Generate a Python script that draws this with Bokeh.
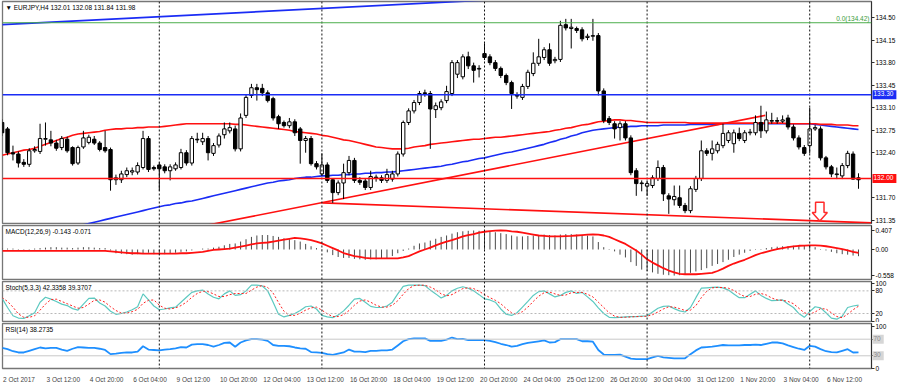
import numpy as np
from bokeh.plotting import figure
from bokeh.layouts import column, row
from bokeh.models import Span, Label, FixedTicker, Range1d, CustomJSTickFormatter, PrintfTickFormatter
from bokeh.embed import file_html
from bokeh.resources import INLINE

# ---------------- data ----------------
BAR = list(range(1, 160))  # H4 bar index, 0 = 2 Oct 2017 00:00

OPEN = [132.87,132.77,132.40,132.38,132.25,132.22,132.43,132.42,132.61,132.60,
        132.55,132.48,132.61,132.48,132.24,132.49,132.56,132.61,132.55,132.48,
        132.45,131.98,131.98,132.06,132.10,132.10,132.17,132.62,132.17,132.21,
        132.18,132.12,132.15,132.17,132.40,132.24,132.61,132.57,132.62,132.39,
        132.52,132.68,132.74,132.77,132.46,132.98,133.29,133.41,133.40,133.33,
        133.24,132.96,132.87,132.82,132.88,132.77,132.59,132.62,132.23,132.07,
        132.21,131.98,131.78,131.93,132.09,132.28,131.97,131.96,131.86,132.02,
        132.01,131.97,131.99,132.07,132.38,132.87,133.05,133.18,133.33,133.32,
        133.07,133.10,133.21,133.32,133.62,133.58,133.89,133.75,133.70,133.94,
        133.89,133.80,133.71,133.60,133.49,133.30,133.26,133.43,133.63,133.79,
        133.88,134.00,133.83,133.85,134.39,134.33,134.33,134.31,134.19,134.21,
        134.22,133.36,132.93,132.85,132.79,132.85,132.63,132.12,131.93,131.88,
        131.89,132.00,132.17,131.73,131.67,131.70,131.58,131.50,131.83,132.00,
        132.43,132.39,132.43,132.51,132.59,132.54,132.70,132.59,132.71,132.71,
        132.87,132.74,132.89,132.90,132.89,132.94,132.80,132.63,132.48,132.51,
        132.77,132.77,132.32,132.18,132.06,132.04,132.20,132.38,132.01]
HIGH = [132.92,132.80,132.51,132.42,132.30,132.47,132.50,132.85,132.87,132.74,
        132.60,132.66,132.65,132.50,132.51,132.74,132.68,132.66,132.58,132.74,
        132.48,132.06,132.12,132.17,132.17,132.25,132.74,132.66,132.20,132.25,
        132.22,132.22,132.25,132.46,132.44,132.66,132.71,132.71,132.66,132.55,
        132.70,132.87,132.87,132.82,133.01,133.30,133.47,133.47,133.47,133.37,
        133.27,132.99,132.90,132.94,132.92,132.80,132.66,132.66,132.27,132.39,
        132.25,132.00,131.97,132.23,132.35,132.32,132.02,132.00,132.12,132.06,
        132.05,132.15,132.12,132.42,132.90,133.09,133.22,133.36,133.38,133.36,
        133.18,133.23,133.44,133.84,133.84,133.93,133.97,133.80,133.76,134.10,
        133.93,133.84,133.74,133.63,133.52,133.34,133.47,133.69,133.96,134.17,
        134.04,134.10,133.89,134.45,134.48,134.48,134.36,134.35,134.25,134.48,
        134.26,133.40,132.97,132.89,132.89,132.89,132.67,132.16,131.97,131.97,
        132.05,132.28,132.21,131.77,131.89,131.89,131.62,131.88,132.04,132.59,
        132.47,132.59,132.57,132.85,132.75,132.76,132.79,132.75,132.77,132.98,
        133.13,133.04,133.02,132.95,132.98,132.99,132.84,132.67,132.52,133.10,
        132.83,132.81,132.35,132.21,132.17,132.24,132.43,132.42,132.08]
LOW = [132.66,132.36,132.28,132.17,132.18,132.18,132.40,132.38,132.51,132.50,
       132.43,132.44,132.40,132.20,132.21,132.46,132.53,132.52,132.42,132.40,
       131.81,131.90,131.93,132.02,132.05,132.06,132.14,132.10,132.12,131.81,
       132.08,131.97,132.12,132.14,132.20,132.20,132.55,132.52,132.28,132.35,
       132.48,132.62,132.70,132.42,132.42,132.94,133.25,133.21,133.28,133.18,
       132.90,132.77,132.79,132.78,132.66,132.23,132.40,132.20,132.14,132.04,
       131.93,131.62,131.74,131.68,132.05,131.93,131.90,131.82,131.82,131.95,
       131.93,131.93,131.95,132.03,132.34,132.83,133.01,133.14,133.27,132.46,
       132.94,133.06,133.17,133.28,133.56,133.54,133.70,133.49,133.57,133.84,
       133.76,133.67,133.56,133.45,133.08,133.24,133.22,133.39,133.59,133.75,
       133.84,133.75,133.79,133.81,134.30,134.02,134.26,134.13,134.15,134.14,
       133.29,132.86,132.83,132.62,132.59,132.59,132.05,131.73,131.80,131.73,
       131.85,131.96,131.65,131.45,131.58,131.54,131.46,131.46,131.79,131.96,
       132.35,132.28,132.39,132.47,132.55,132.40,132.58,132.55,132.67,132.67,
       132.63,132.70,132.85,132.85,132.86,132.76,132.59,132.45,132.35,132.39,
       132.74,132.28,132.14,132.02,131.99,131.99,132.16,131.98,131.84]
CLOSE = [132.71,132.40,132.38,132.24,132.22,132.43,132.45,132.62,132.62,132.55,
         132.47,132.62,132.43,132.23,132.48,132.63,132.64,132.55,132.45,132.43,
         131.98,132.01,132.07,132.12,132.12,132.20,132.62,132.14,132.15,132.15,
         132.12,132.18,132.21,132.40,132.24,132.62,132.60,132.62,132.40,132.51,
         132.66,132.77,132.79,132.46,132.94,133.26,133.41,133.38,133.33,133.21,
         132.94,132.85,132.82,132.88,132.71,132.59,132.62,132.23,132.18,132.21,
         131.97,131.78,131.93,132.09,132.28,131.97,131.94,131.86,132.03,132.00,
         131.97,132.06,132.07,132.38,132.87,133.05,133.18,133.32,133.32,133.08,
         133.13,133.19,133.35,133.80,133.80,133.89,133.75,133.68,133.71,133.88,
         133.80,133.71,133.60,133.49,133.32,133.28,133.43,133.65,133.79,133.89,
         134.00,133.79,133.85,134.38,134.34,134.35,134.30,134.17,134.21,134.22,
         133.36,132.90,132.87,132.77,132.85,132.63,132.09,131.92,131.92,131.92,
         132.01,132.17,131.76,131.68,131.72,131.58,131.50,131.84,132.00,132.43,
         132.39,132.46,132.53,132.70,132.71,132.71,132.62,132.71,132.72,132.87,
         132.74,132.91,132.90,132.89,132.91,132.80,132.63,132.49,132.39,132.77,
         132.79,132.32,132.18,132.07,132.07,132.20,132.39,131.99,131.98]

MA_RED = [132.36,132.38,132.40,132.42,132.44,132.45,132.47,132.50,132.53,132.56,
          132.59,132.62,132.64,132.67,132.69,132.70,132.71,132.72,132.73,132.75,
          132.76,132.77,132.77,132.78,132.78,132.79,132.79,132.80,132.80,132.80,
          132.81,132.82,132.83,132.84,132.85,132.85,132.85,132.85,132.85,132.85,
          132.85,132.85,132.85,132.84,132.84,132.83,132.82,132.81,132.80,132.79,
          132.78,132.77,132.76,132.75,132.73,132.72,132.71,132.70,132.69,132.67,
          132.66,132.64,132.62,132.60,132.59,132.57,132.55,132.53,132.51,132.49,
          132.48,132.47,132.46,132.46,132.46,132.47,132.49,132.50,132.51,132.53,
          132.54,132.55,132.56,132.57,132.58,132.59,132.60,132.61,132.61,132.62,
          132.63,132.64,132.64,132.65,132.66,132.67,132.68,132.69,132.70,132.71,
          132.72,132.73,132.75,132.76,132.78,132.79,132.81,132.83,132.84,132.86,
          132.88,132.89,132.90,132.91,132.91,132.90,132.90,132.89,132.88,132.87,
          132.87,132.87,132.87,132.87,132.87,132.87,132.87,132.86,132.86,132.86,
          132.86,132.86,132.86,132.86,132.86,132.86,132.86,132.86,132.86,132.86,
          132.86,132.86,132.86,132.86,132.86,132.85,132.85,132.85,132.85,132.85,
          132.85,132.84,132.84,132.84,132.83,132.83,132.83,132.82,132.82]
MA_BLUE_BAR = list(range(13, 160))
MA_BLUE = [131.20,131.23,131.26,131.28,131.30,131.32,131.34,131.36,131.38,131.40,
           131.42,131.44,131.46,131.48,131.50,131.52,131.54,131.56,131.58,131.59,
           131.61,131.62,131.64,131.65,131.67,131.69,131.71,131.73,131.75,131.77,
           131.79,131.81,131.83,131.85,131.87,131.89,131.91,131.93,131.94,131.96,
           131.97,131.98,132.00,132.01,132.02,132.02,132.03,132.04,132.04,132.05,
           132.05,132.06,132.06,132.07,132.07,132.08,132.08,132.09,132.09,132.10,
           132.10,132.11,132.12,132.13,132.14,132.15,132.16,132.17,132.18,132.19,
           132.21,132.22,132.24,132.26,132.27,132.29,132.31,132.32,132.34,132.36,
           132.38,132.40,132.41,132.43,132.45,132.47,132.49,132.51,132.53,132.56,
           132.58,132.61,132.63,132.66,132.68,132.71,132.73,132.75,132.76,132.77,
           132.78,132.79,132.80,132.80,132.81,132.81,132.82,132.82,132.82,132.82,
           132.83,132.83,132.83,132.83,132.83,132.84,132.84,132.84,132.84,132.84,
           132.84,132.85,132.85,132.85,132.85,132.85,132.85,132.85,132.85,132.85,
           132.85,132.85,132.85,132.85,132.85,132.85,132.85,132.85,132.84,132.83,
           132.82,132.81,132.80,132.79,132.78,132.77,132.76]

MACD_MAIN = [0.03,0.02,0.02,0.01,-0.01,0.01,0.02,0.03,0.04,0.05,
             0.05,0.04,0.04,0.03,0.04,0.05,0.05,0.04,0.03,0.03,
             -0.02,-0.08,-0.09,-0.10,-0.11,-0.10,-0.08,-0.07,-0.10,-0.11,
             -0.10,-0.08,-0.07,-0.05,-0.04,-0.02,0.00,0.02,0.02,0.04,
             0.06,0.09,0.12,0.13,0.17,0.22,0.27,0.30,0.31,0.31,
             0.29,0.27,0.24,0.22,0.20,0.17,0.12,0.07,0.03,-0.01,
             -0.06,-0.12,-0.16,-0.18,-0.18,-0.20,-0.21,-0.22,-0.21,-0.21,
             -0.20,-0.19,-0.14,-0.08,-0.03,0.02,0.08,0.13,0.15,0.19,
             0.23,0.27,0.30,0.34,0.37,0.39,0.40,0.407,0.40,0.39,
             0.38,0.37,0.35,0.33,0.30,0.28,0.28,0.29,0.30,0.31,
             0.32,0.31,0.30,0.32,0.33,0.33,0.32,0.31,0.30,0.28,
             0.16,0.05,-0.01,-0.04,-0.11,-0.17,-0.27,-0.35,-0.43,-0.46,
             -0.49,-0.52,-0.54,-0.55,-0.558,-0.55,-0.53,-0.50,-0.47,-0.44,
             -0.40,-0.35,-0.31,-0.27,-0.22,-0.16,-0.11,-0.07,-0.03,-0.01,
             0.01,0.03,0.05,0.06,0.07,0.07,0.08,0.09,0.09,0.08,
             0.05,0.01,-0.02,-0.05,-0.08,-0.10,-0.11,-0.13,-0.143]
MACD_SIGNAL = [-0.03,-0.03,-0.03,-0.03,-0.03,-0.03,-0.03,-0.03,-0.03,-0.03,
               -0.03,-0.03,-0.03,-0.03,-0.03,-0.03,-0.03,-0.03,-0.03,-0.03,
               -0.04,-0.05,-0.06,-0.07,-0.08,-0.08,-0.09,-0.09,-0.09,-0.09,
               -0.09,-0.09,-0.09,-0.08,-0.08,-0.07,-0.06,-0.05,-0.03,-0.01,
               0.00,0.01,0.02,0.04,0.06,0.085,0.11,0.13,0.14,0.15,
               0.17,0.19,0.21,0.23,0.25,0.24,0.22,0.20,0.17,0.13,
               0.08,0.03,-0.02,-0.075,-0.11,-0.14,-0.16,-0.18,-0.19,-0.19,
               -0.19,-0.19,-0.19,-0.19,-0.17,-0.14,-0.09,-0.04,0.00,0.04,
               0.09,0.13,0.17,0.20,0.24,0.28,0.31,0.33,0.36,0.38,
               0.395,0.405,0.407,0.405,0.39,0.38,0.36,0.34,0.32,0.30,
               0.29,0.28,0.28,0.28,0.285,0.29,0.30,0.31,0.32,0.325,
               0.32,0.30,0.27,0.22,0.17,0.12,0.05,-0.02,-0.11,-0.21,
               -0.28,-0.34,-0.40,-0.45,-0.49,-0.52,-0.53,-0.53,-0.53,-0.52,
               -0.51,-0.50,-0.46,-0.41,-0.35,-0.30,-0.26,-0.22,-0.17,-0.12,
               -0.08,-0.05,-0.02,0.01,0.03,0.05,0.065,0.08,0.085,0.09,
               0.09,0.085,0.07,0.05,0.03,0.01,-0.02,-0.05,-0.071]

STOCH_K = [60,36,14,8,7,14,22,50,63,58,52,45,41,33,29,45,60,61,48,40,
           26,18,20,24,30,38,72,56,40,30,32,35,37,50,63,76,80,82,72,63,
           59,72,80,68,70,80,95,95,93,80,50,18,11,15,20,28,38,40,32,15,
           11,9,16,27,42,58,60,50,39,36,36,40,50,72,92,95,95,95,94,82,
           72,61,68,80,87,91,87,80,70,59,56,50,32,18,15,22,37,52,68,78,
           80,72,64,68,76,80,73,76,64,52,35,20,10,9,10,11,12,12,13,14,
           24,34,39,40,33,27,24,36,62,87,88,89,90,88,82,72,62,62,71,80,
           68,60,54,55,56,45,36,20,10,25,38,35,22,8,5,13,36,40,42.34]
STOCH_D = [62,52,37,19,10,10,14,29,45,57,58,52,46,40,34,36,45,55,56,50,
           38,28,21,21,25,31,47,55,56,42,34,32,35,41,50,63,73,79,78,72,
           65,65,70,73,73,73,82,90,94,89,74,49,26,15,15,21,29,35,37,29,
           19,12,12,17,28,42,53,56,50,42,37,37,42,54,71,86,94,95,95,90,
           83,72,67,70,78,86,88,86,79,70,62,55,46,33,22,18,25,37,52,66,
           75,77,72,68,69,75,76,76,71,64,50,36,22,13,10,10,11,12,12,13,
           17,24,32,38,37,33,28,29,41,62,79,88,89,89,87,81,72,65,65,71,
           73,69,61,56,55,52,46,34,22,18,24,33,32,22,12,9,18,30,39.37]
RSI = [49,46,41,38,38,42,46,50,48,49,49,45,42,47,51,50,49,49,47,44,
       34,35,37,38,38,40,53,45,44,43,45,46,48,51,50,57,58,58,56,52,
       56,61,62,52,62,67,70,70,69,66,56,54,54,53,50,48,47,39,38,37,
       34,32,35,38,45,40,40,39,42,42,43,43,45,55,65,70,72,72,72,66,
       66,66,69,74,70,71,68,68,68,68,66,63,59,56,52,54,58,61,63,65,
       67,62,63,70,70,70,70,65,65,64,44,33,32,32,33,28,23,22,22,22,
       26,30,26,25,24,24,24,34,43,50,51,52,54,56,55,55,55,56,56,57,
       56,59,62,62,60,55,51,47,44,54,52,46,41,39,38,42,46,38,38.27]

# horizontal levels / objects on the price panel
FIBO_LEVEL = 134.42
LEVEL_BLUE = 133.30
LEVEL_RED = 132.00
TREND_BLUE_X, TREND_BLUE_Y = [1.0, 90.0], [134.39, 134.77]
TREND_UP_X, TREND_UP_Y = [38.0, 141.8], [131.26, 132.98]
TREND_DN_X, TREND_DN_Y = [60.1, 161.4], [131.62, 131.31]
ARROW_BAR, ARROW_PRICE = 151.86, 131.63
WEEK_SEPARATORS = [30, 60, 90, 120, 150]

PRICE_TICKS = [134.50, 134.15, 133.80, 133.45, 133.10, 132.75, 132.40, 131.70, 131.35]
MACD_TICKS = [0.407, 0.0, -0.558]
STOCH_TICKS = [0, 20, 80, 100]
RSI_TICKS = [0, 30, 70, 100]
RSI_LEVELS = [30, 70]
TIME_TICKS = [1, 9, 17, 25, 33, 41, 49, 57, 65, 73, 81, 89, 97, 105, 113, 121, 129, 137, 145, 153]
TIME_LABELS = ["2 Oct 2017", "3 Oct 12:00", "4 Oct 20:00", "6 Oct 04:00", "9 Oct 12:00",
               "10 Oct 20:00", "12 Oct 04:00", "13 Oct 12:00", "16 Oct 20:00", "18 Oct 04:00",
               "19 Oct 12:00", "20 Oct 20:00", "24 Oct 04:00", "25 Oct 12:00", "26 Oct 20:00",
               "30 Oct 04:00", "31 Oct 12:00", "1 Nov 20:00", "3 Nov 04:00", "6 Nov 12:00"]

# ---------------- styling ----------------
FONT = "Liberation Sans"
FS_PX = 6.5
FS = "%.1fpx" % FS_PX
X0, X1 = 1.07, 161.4
FRAME_W = 869
AXIS_W = 29
PX_PER_BAR = FRAME_W / (X1 - X0)
xr = Range1d(X0, X1)

# approximate Arial/Liberation advance widths (em) to left-align time labels at their bar
_W = {c: 0.556 for c in "0123456789"}
_W.update({" ": 0.278, ":": 0.278, "O": 0.778, "N": 0.722, "c": 0.5, "t": 0.278,
           "o": 0.556, "v": 0.5})


def text_w(s):
    return sum(_W.get(ch, 0.55) for ch in s) * FS_PX


def make_fig(fh, yr, bottom_axis=False):
    p = figure(x_range=xr, y_range=yr, frame_width=FRAME_W, frame_height=fh,
               output_backend="svg", toolbar_location=None,
               x_axis_location="below" if bottom_axis else None,
               y_axis_location="right", min_border_left=2, min_border_right=AXIS_W,
               min_border_top=1, min_border_bottom=16 if bottom_axis else 1)
    p.grid.visible = False
    p.outline_line_color = "#767676"
    p.outline_line_width = 1.3
    p.background_fill_color = "white"
    p.border_fill_color = "white"
    ax = p.yaxis[0]
    ax.axis_line_color = "#303030"
    ax.major_tick_line_color = "#303030"
    ax.major_tick_out = 3
    ax.major_tick_in = 0
    ax.minor_tick_line_color = None
    ax.major_label_text_font = FONT
    ax.major_label_text_font_size = FS
    ax.major_label_text_color = "black"
    ax.major_label_standoff = 1
    for loc in WEEK_SEPARATORS:
        p.add_layout(Span(location=loc, dimension="height", line_color="#111111",
                          line_dash="2 2", line_width=1))
    return p


def box_fig(fh, yr):
    """transparent strip laid over the price-axis area, for the coloured level boxes"""
    b = figure(x_range=Range1d(0, 1), y_range=yr, frame_width=AXIS_W, frame_height=fh,
               output_backend="svg", toolbar_location=None, x_axis_location=None,
               y_axis_location=None, min_border_left=0, min_border_right=0,
               min_border_top=1, min_border_bottom=1, margin=(0, 0, 0, -AXIS_W))
    b.grid.visible = False
    b.outline_line_color = None
    b.background_fill_alpha = 0
    b.border_fill_alpha = 0
    return b


def title_label(p, text, y):
    p.add_layout(Label(x=X0, y=y, x_offset=3, y_offset=-2, text=text, text_baseline="top",
                       text_font=FONT, text_font_size=FS, text_color="black"))


def axis_box(b, y, text, bg, fg):
    b.add_layout(Label(x=0, y=y, x_offset=1, text=text, text_baseline="middle",
                       text_font=FONT, text_font_size=FS, text_color=fg,
                       background_fill_color=bg, padding=(1, 3, 1, 3)))


# ---------------- price panel ----------------
PRICE_RANGE = Range1d(131.30, 134.75)
pm = make_fig(222, PRICE_RANGE)
pm.yaxis[0].ticker = FixedTicker(ticks=PRICE_TICKS)
pm.yaxis[0].formatter = PrintfTickFormatter(format="%.2f")

pm.add_layout(Span(location=FIBO_LEVEL, dimension="width", line_color="#4cae4c", line_width=1))
pm.add_layout(Span(location=LEVEL_BLUE, dimension="width", line_color="#1a2cf5", line_width=1.6))
pm.add_layout(Span(location=LEVEL_RED, dimension="width", line_color="#ff1010", line_width=1.6))

pm.line(TREND_BLUE_X, TREND_BLUE_Y, line_color="#1a2cf5", line_width=1.8)
pm.line(MA_BLUE_BAR, MA_BLUE, line_color="#1a2cf5", line_width=1.6)
pm.line(BAR, MA_RED, line_color="#ff1010", line_width=1.6)
pm.line(TREND_UP_X, TREND_UP_Y, line_color="#ff1010", line_width=1.6)
pm.line(TREND_DN_X, TREND_DN_Y, line_color="#ff1010", line_width=1.6)

o = np.array(OPEN); c = np.array(CLOSE); b_ = np.array(BAR)
up = c >= o
top = np.maximum(o, c); bot = np.minimum(o, c)
pm.segment(x0=BAR, y0=LOW, x1=BAR, y1=HIGH, line_color="black", line_width=1)
pm.vbar(x=b_[up], top=top[up], bottom=bot[up], width=0.62, fill_color="white",
        line_color="black", line_width=1)
pm.vbar(x=b_[~up], top=top[~up], bottom=bot[~up], width=0.62, fill_color="black",
        line_color="black", line_width=1)

# sell arrow (outline), shape sizes in bars / price units
AW_STEM, AW_HEAD, AW_STEM_H, AW_TIP = 0.78, 1.40, 0.16, 0.29
pm.patch([ARROW_BAR - AW_STEM, ARROW_BAR + AW_STEM, ARROW_BAR + AW_STEM, ARROW_BAR + AW_HEAD,
          ARROW_BAR, ARROW_BAR - AW_HEAD, ARROW_BAR - AW_STEM],
         [ARROW_PRICE, ARROW_PRICE, ARROW_PRICE - AW_STEM_H, ARROW_PRICE - AW_STEM_H,
          ARROW_PRICE - AW_TIP, ARROW_PRICE - AW_STEM_H, ARROW_PRICE - AW_STEM_H],
         fill_color="white", line_color="#ff2a2a", line_width=1.5)

title_label(pm, "\u25BC EURJPY,H4  132.01 132.08 131.84 131.98", PRICE_RANGE.end)
pm.add_layout(Label(x=X1, y=FIBO_LEVEL, x_offset=-2, y_offset=1, text="0.0(134.42)",
                    text_align="right", text_baseline="bottom", text_font=FONT,
                    text_font_size=FS, text_color="#3c9c3c"))
pm_box = box_fig(222, PRICE_RANGE)
axis_box(pm_box, LEVEL_BLUE, "%.2f" % LEVEL_BLUE, "#1a2cf5", "white")
axis_box(pm_box, LEVEL_RED, "%.2f" % LEVEL_RED, "#ff1010", "white")

# ---------------- MACD panel ----------------
MACD_RANGE = Range1d(-0.642, 0.514)
pmacd = make_fig(54, MACD_RANGE)
pmacd.yaxis[0].ticker = FixedTicker(ticks=MACD_TICKS)
pmacd.yaxis[0].formatter = CustomJSTickFormatter(code="return tick == 0 ? '0.00' : String(tick);")
pmacd.segment(x0=BAR, y0=[0] * len(BAR), x1=BAR, y1=MACD_MAIN, line_color="#4a4a4a", line_width=1)
pmacd.line(BAR, MACD_SIGNAL, line_color="#ff1010", line_width=1.8)
title_label(pmacd, "MACD(12,26,9) -0.143 -0.071", MACD_RANGE.end)

# ---------------- Stochastic panel ----------------
STOCH_RANGE = Range1d(-1.1, 104.8)
pst = make_fig(40, STOCH_RANGE)
pst.yaxis[0].ticker = FixedTicker(ticks=STOCH_TICKS)
for lv in (20, 80):
    pst.add_layout(Span(location=lv, dimension="width", line_color="#b8b8b8",
                        line_dash="2 2", line_width=1))
pst.line(BAR, STOCH_K, line_color="#5cc9c0", line_width=1.2)
pst.line(BAR, STOCH_D, line_color="#ff2020", line_width=1, line_dash="2 2")
title_label(pst, "Stoch(5,3,3) 42.3358 39.3707", STOCH_RANGE.end)

# ---------------- RSI panel ----------------
RSI_RANGE = Range1d(-0.6, 107.8)
prsi = make_fig(45, RSI_RANGE, bottom_axis=True)
prsi.yaxis[0].ticker = FixedTicker(ticks=RSI_TICKS)
prsi.yaxis[0].major_label_overrides = {lv: "" for lv in RSI_LEVELS}
prsi_box = box_fig(45, RSI_RANGE)
for lv in RSI_LEVELS:
    prsi.add_layout(Span(location=lv, dimension="width", line_color="#c8c8c8", line_width=1))
    axis_box(prsi_box, lv, str(lv), "#d6d6d6", "#8a8a8a")
prsi.line(BAR, RSI, line_color="#1e8fff", line_width=1.8)
title_label(prsi, "RSI(14) 38.2735", RSI_RANGE.end)

# time labels start at their bar (MT4 style): shift each tick by half its label width
label_pos = [t + (text_w(s) / 2 + 1) / PX_PER_BAR for t, s in zip(TIME_TICKS, TIME_LABELS)]
xa = prsi.xaxis[0]
xa.ticker = FixedTicker(ticks=label_pos)
xa.major_label_overrides = dict(zip(label_pos, TIME_LABELS))
xa.major_label_text_font = FONT
xa.major_label_text_font_size = FS
xa.major_label_standoff = 1
xa.axis_line_color = None
xa.major_tick_line_color = None
xa.minor_tick_line_color = None

layout = column(row(pm, pm_box, spacing=0), pmacd, pst, row(prsi, prsi_box, spacing=0), spacing=0)
open("out.html", "w").write(file_html(layout, INLINE))
